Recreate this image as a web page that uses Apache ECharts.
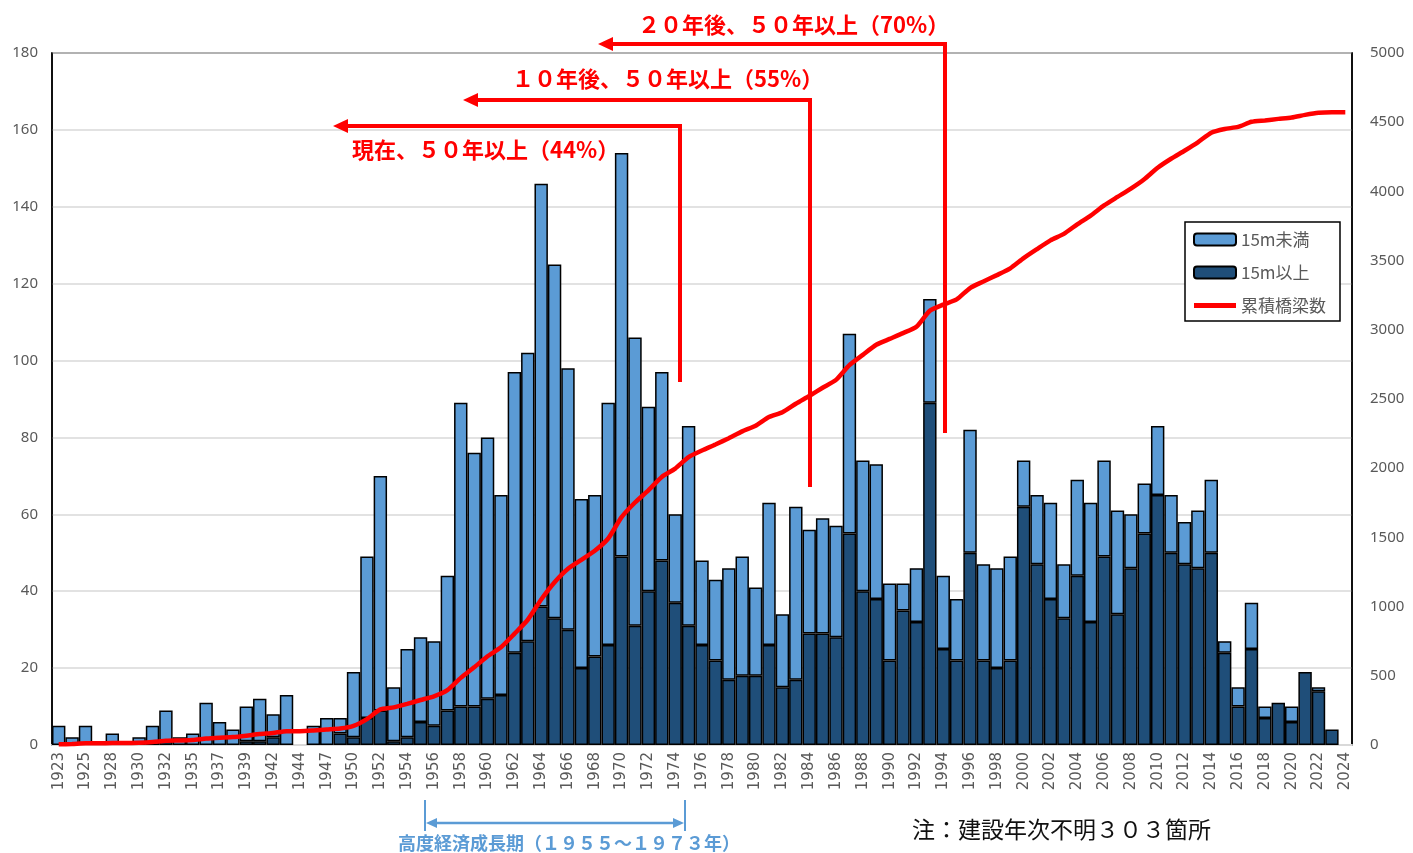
<!DOCTYPE html>
<html>
<head>
<meta charset="utf-8">
<script src="https://cdn.jsdelivr.net/npm/echarts@6/dist/echarts.min.js"></script>
<style>
html,body{margin:0;padding:0;background:#fff;}
#bridgeChart{width:1413px;height:853px;}
</style>
</head>
<body>
<div id="bridgeChart"></div>
<script>
// 建設年度別橋梁数
var years = ['1923','1924','1925','1926','1928','1929','1930','1931','1932','1934','1935','1936','1937','1938','1939','1940','1942','1943','1944','1946','1947','1948',
	'1950','1951','1952','1953','1954','1955','1956','1957','1958','1959','1960','1961','1962','1963','1964','1965','1966','1967','1968','1969',
	'1970','1971','1972','1973','1974','1975','1976','1977','1978','1979','1980','1981','1982','1983','1984','1985','1986','1987','1988','1989',
	'1990','1991','1992','1993','1994','1995','1996','1997','1998','1999','2000','2001','2002','2003','2004','2005','2006','2007','2008','2009',
	'2010','2011','2012','2013','2014','2015','2016','2017','2018','2019','2020','2021','2022','2023','2024'];

// 15m以上（下段）
var over15 = [0,0,0,0,0,0,0,0,1,0,0,0,0,0,1,1,2,0,0,0,0,3,
	2,7,9,1,2,6,5,9,10,10,12,13,24,27,36,33,30,20,23,26,
	49,31,40,48,37,31,26,22,17,18,18,26,15,17,29,29,28,55,40,38,
	22,35,32,89,25,22,50,22,20,22,62,47,38,33,44,32,49,34,46,55,
	65,50,47,46,50,24,10,25,7,11,6,19,14,4,0];

// 15m未満（上段）
var under15 = [5,2,5,0,3,0,2,5,8,2,3,11,6,4,9,11,6,13,0,5,7,4,
	17,42,61,14,23,22,22,35,79,66,68,52,73,75,110,92,68,44,42,63,
	105,75,48,49,23,52,22,21,29,31,23,37,19,45,27,30,29,52,34,35,
	20,7,14,27,19,16,32,25,26,27,12,18,25,14,25,31,25,27,14,13,
	18,15,11,15,19,3,5,12,3,0,4,0,1,0,0];

// 累積橋梁数
var cumulative = [5,7,12,12,15,15,17,22,31,33,36,47,53,57,67,79,87,100,100,105,112,119,
	138,187,257,272,297,325,352,396,485,561,641,706,803,905,1051,1176,1274,1338,1403,1492,
	1646,1752,1840,1937,1997,2080,2128,2171,2217,2266,2307,2370,2404,2466,2522,2581,2638,2745,2819,2892,
	2934,2976,3022,3138,3182,3220,3302,3349,3395,3444,3518,3583,3646,3693,3762,3825,3899,3960,4020,4088,
	4171,4236,4294,4355,4424,4451,4466,4503,4513,4524,4534,4553,4568,4572,4572];

var leftTicks = {min: 0, max: 180, interval: 20};
var rightTicks = {min: 0, max: 5000, interval: 500};

var RED = '#ff0000';
var BLUE = '#5b9bd5';
var CJK = "'Noto Sans CJK JP', 'Noto Sans', sans-serif";

// 0 のカテゴリは棒を描かない
function noZero(arr){
	return arr.map(function(v){ return v === 0 ? '-' : v; });
}

function arrowLeft(tipX, y, cornerX, bottomY){
	return [
		{type: 'polyline', z: 100, shape: {points: [[cornerX, bottomY], [cornerX, y], [tipX + 12, y]]},
			style: {stroke: RED, lineWidth: 4, fill: null}},
		{type: 'polygon', z: 100, shape: {points: [[tipX, y], [tipX + 15, y - 7], [tipX + 15, y + 7]]},
			style: {fill: RED}}
	];
}

var chart = echarts.init(document.getElementById('bridgeChart'));
var graphics = []
	.concat(arrowLeft(598, 44, 945, 433))
	.concat(arrowLeft(463, 100, 810, 487))
	.concat(arrowLeft(333, 126, 680, 382));
graphics.push(
	{type: 'text', z: 100, left: 638, top: 14, style: {text: '２０年後、５０年以上（70%）', fill: RED, font: "bold 22px " + CJK}},
	{type: 'text', z: 100, left: 512, top: 68, style: {text: '１０年後、５０年以上（55%）', fill: RED, font: "bold 22px " + CJK}},
	{type: 'text', z: 100, left: 352, top: 139, style: {text: '現在、５０年以上（44%）', fill: RED, font: "bold 22px " + CJK}},
	// 高度経済成長期
	{type: 'line', shape: {x1: 425, y1: 800, x2: 425, y2: 831}, style: {stroke: BLUE, lineWidth: 2}},
	{type: 'line', shape: {x1: 685, y1: 800, x2: 685, y2: 831}, style: {stroke: BLUE, lineWidth: 2}},
	{type: 'line', shape: {x1: 432, y1: 823, x2: 678, y2: 823}, style: {stroke: BLUE, lineWidth: 2.5}},
	{type: 'polygon', shape: {points: [[426, 823], [437, 818], [437, 828]]}, style: {fill: BLUE}},
	{type: 'polygon', shape: {points: [[684, 823], [673, 818], [673, 828]]}, style: {fill: BLUE}},
	{type: 'text', left: 398, top: 834, style: {text: '高度経済成長期（１９５５～１９７３年）', fill: BLUE, font: "bold 18px " + CJK}},
	{type: 'text', left: 912, top: 818, style: {text: '注：建設年次不明３０３箇所', fill: '#111', font: "23px " + CJK}}
);

var option = {
	animation: false,
	textStyle: {fontFamily: "'Noto Sans', 'Noto Sans CJK JP', sans-serif"},
	grid: {left: 52, right: 61, top: 53, bottom: 108, show: true, borderColor: '#000', borderWidth: 1.5},
	legend: {
		orient: 'vertical',
		left: 1185,
		top: 222,
		padding: [9, 14, 7, 8],
		itemWidth: 42,
		itemHeight: 12,
		itemGap: 16,
		backgroundColor: '#fff',
		borderColor: '#000',
		borderWidth: 1.5,
		symbolKeepAspect: true,
		textStyle: {fontSize: 17, color: '#595959', fontFamily: CJK},
		data: [
			{name: '15m未満'},
			{name: '15m以上'},
			{name: '累積橋梁数', icon: 'path://M0,0 L42,0 L42,5 L0,5 Z', itemStyle: {color: RED}}
		]
	},
	xAxis: [{
		type: 'category',
		data: years,
		boundaryGap: true,
		axisLine: {lineStyle: {color: '#d9d9d9', width: 2}},
		axisTick: {show: false},
		axisLabel: {interval: 1, rotate: 90, fontSize: 15, color: '#595959', margin: 7, fontFamily: "'DejaVu Sans', sans-serif"}
	}],
	yAxis: [
		{
			type: 'value',
			min: leftTicks.min, max: leftTicks.max, interval: leftTicks.interval,
			axisLine: {show: true, lineStyle: {color: '#000', width: 1.5}},
			axisTick: {show: false},
			axisLabel: {fontSize: 15, color: '#595959', margin: 14},
			splitLine: {lineStyle: {color: '#d9d9d9', width: 1.5}}
		},
		{
			type: 'value',
			min: rightTicks.min, max: rightTicks.max, interval: rightTicks.interval,
			axisLine: {show: true, lineStyle: {color: '#000', width: 1.5}},
			axisTick: {show: false},
			axisLabel: {fontSize: 15, color: '#595959', margin: 18, formatter: function(v){ return String(v); }},
			splitLine: {show: false}
		}
	],
	series: [
		{
			name: '15m以上',
			type: 'bar',
			stack: 'len',
			data: noZero(over15),
			barCategoryGap: 0,
			itemStyle: {color: '#1f4e79', borderColor: '#000', borderWidth: 1.5}
		},
		{
			name: '15m未満',
			type: 'bar',
			stack: 'len',
			data: noZero(under15),
			barCategoryGap: 0,
			itemStyle: {color: BLUE, borderColor: '#000', borderWidth: 1.5}
		},
		{
			name: '累積橋梁数',
			type: 'line',
			yAxisIndex: 1,
			data: cumulative,
			symbol: 'none',
			smooth: 0.2,
			z: 5,
			lineStyle: {color: RED, width: 4.5},
			itemStyle: {color: RED}
		}
	],
	graphic: graphics
};
chart.setOption(option);
</script>
</body>
</html>
